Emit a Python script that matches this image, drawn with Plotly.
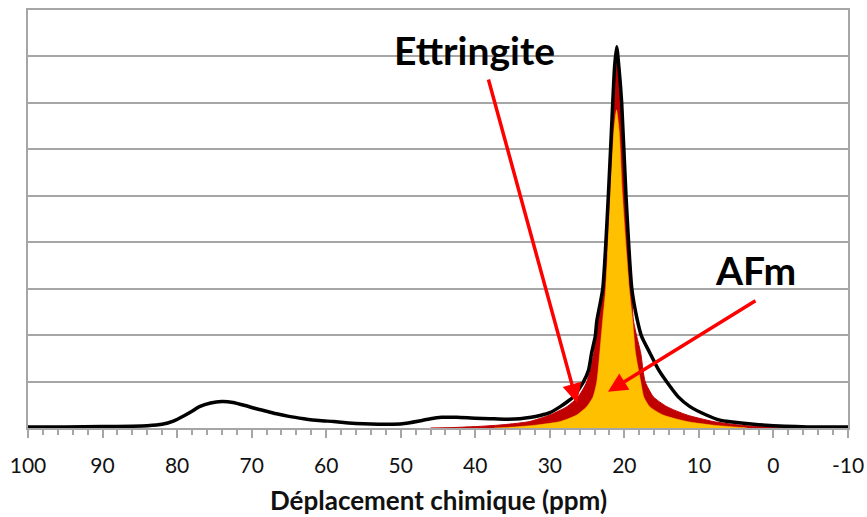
import plotly.graph_objects as go

# Total spectrum (black line)
total_ppm = [100, 95, 90, 86, 84, 82, 80.5, 79, 78, 77, 75.5, 74, 72.5, 71, 69.5, 68, 66.5, 65,
             63, 61, 59, 57, 55, 53, 51, 49, 47.5, 46, 44.5, 42.5, 40, 38, 36, 34, 32.5, 31.3,
             30, 28.6, 27.7, 26.85, 25.5, 24.8, 24.4, 23.9, 23.7, 22.9, 22.15, 21.56, 21.3,
             21.03, 20.75, 20.36, 19.78, 19.0, 18.27, 17.7, 16.56, 15.4, 14.3, 12.77, 11.2,
             9.0, 7.2, 5.5, 4, 2, 0, -3, -6, -10]
total_int = [0.02, 0.02, 0.03, 0.04, 0.05, 0.08, 0.15, 0.27, 0.36, 0.46, 0.54, 0.57, 0.55, 0.49,
             0.42, 0.36, 0.30, 0.25, 0.20, 0.16, 0.14, 0.11, 0.09, 0.08, 0.08, 0.11, 0.15, 0.20,
             0.23, 0.23, 0.21, 0.20, 0.19, 0.20, 0.23, 0.27, 0.33, 0.46, 0.56, 0.67, 0.99, 1.25,
             1.61, 1.98, 2.3, 3.0, 5.0, 7.0, 7.8, 8.21, 7.8, 7.0, 5.0, 3.0, 2.33, 1.98, 1.61,
             1.25, 0.99, 0.67, 0.46, 0.28, 0.17, 0.13, 0.10, 0.07, 0.05, 0.03, 0.02, 0.02]

# Sum of fitted components (dark red fill)
red_ppm = [46, 43, 40, 37, 35, 32.7, 30, 27.7, 26.2, 25.05, 24.1, 23.6, 22.85, 22.1, 21.5, 21.25,
           21.0, 20.75, 20.4, 19.85, 19.05, 18.8, 18.35, 17.8, 17.5, 17.2, 16.1, 14.3, 11.6, 8.1,
           5, 2, -2, -5.4]
red_int = [0.0, 0.01, 0.03, 0.06, 0.09, 0.14, 0.28, 0.46, 0.67, 0.99, 1.61, 2.33, 3.0, 5.0, 7.0,
           7.65, 7.98, 7.65, 7.0, 5.0, 3.0, 2.33, 1.98, 1.61, 1.25, 0.99, 0.67, 0.46, 0.28, 0.14,
           0.07, 0.03, 0.01, 0.0]

# Single component (yellow fill)
yel_ppm = [37.5, 35, 32, 28.6, 26.4, 25.05, 24.2, 23.7, 23.3, 22.9, 22.5, 21.9, 21.4, 21.05, 20.7,
           20.25, 19.35, 18.9, 18.5, 17.8, 17.4, 16.6, 14.8, 11.6, 8, 5, 3.5]
yel_int = [0.0, 0.02, 0.06, 0.14, 0.28, 0.46, 0.67, 0.99, 1.61, 2.33, 3.0, 5.0, 6.4, 6.85, 6.4,
           5.0, 3.0, 2.33, 1.61, 0.99, 0.67, 0.46, 0.28, 0.14, 0.06, 0.02, 0.0]

x_ticks = [100, 90, 80, 70, 60, 50, 40, 30, 20, 10, 0, -10]
x_tick_text = ["100", "90", "80", "70", "60", "50", "40", "30", "20", "10", "0", "-10"]

GRID = "#a6a6a6"

fig = go.Figure()
fig.add_trace(go.Scatter(x=red_ppm, y=red_int, mode="lines", fill="tozeroy",
                         line=dict(color="#C00000", width=1, shape="spline", smoothing=0.6),
                         fillcolor="#C00000", hoverinfo="skip", showlegend=False))
fig.add_trace(go.Scatter(x=yel_ppm, y=yel_int, mode="lines", fill="tozeroy",
                         line=dict(color="#FFC000", width=0.5, shape="spline", smoothing=0.6),
                         fillcolor="#FFC000", hoverinfo="skip", showlegend=False))
fig.add_trace(go.Scatter(x=total_ppm, y=total_int, mode="lines",
                         line=dict(color="#000000", width=3.5, shape="spline", smoothing=0.6),
                         hoverinfo="skip", showlegend=False))

fig.update_layout(
    width=867, height=517,
    margin=dict(l=28, r=19, t=10, b=89, autoexpand=False),
    paper_bgcolor="white", plot_bgcolor="white",
    font=dict(family="Lato, Open Sans, sans-serif", color="#000000"),
    xaxis=dict(range=[100, -10], tickvals=x_ticks, ticktext=x_tick_text, automargin=False,
               ticks="outside", ticklen=8, tickwidth=1.5, tickcolor=GRID,
               tickfont=dict(size=21, color="#111111"), ticklabelstandoff=10,
               showgrid=False, zeroline=False,
               showline=True, linecolor=GRID, linewidth=2, mirror=True,
               minor=dict(dtick=2, tick0=0, ticks="outside", ticklen=5,
                          tickwidth=1.5, tickcolor=GRID, showgrid=False)),
    yaxis=dict(range=[0, 9], dtick=1, tick0=0, showticklabels=False, ticks="", automargin=False,
               showgrid=True, gridcolor=GRID, gridwidth=1.6, zeroline=False,
               showline=True, linecolor=GRID, linewidth=2, mirror=True),
    annotations=[
        dict(text="<b>Déplacement chimique (ppm)</b>", xref="paper", yref="paper",
             x=0.5, y=-0.172, xanchor="center", yanchor="middle", showarrow=False,
             font=dict(size=26, color="#111111")),
        dict(text="<b>Ettringite</b>", xref="paper", yref="paper", x=0.544, y=0.904,
             xanchor="center", yanchor="middle", showarrow=False,
             font=dict(size=39, color="#000000")),
        dict(text="<b>AFm</b>", xref="paper", yref="paper", x=0.8866, y=0.378,
             xanchor="center", yanchor="middle", showarrow=False,
             font=dict(size=39, color="#000000")),
        dict(text="", x=26.35, y=0.54, xref="x", yref="y", ax=-89, ay=-325,
             showarrow=True, arrowhead=2, arrowsize=1.1, arrowwidth=3.5, arrowcolor="#FF0000"),
        dict(text="", x=22.2, y=0.78, xref="x", yref="y", ax=149, ay=-92,
             showarrow=True, arrowhead=2, arrowsize=1.1, arrowwidth=3.5, arrowcolor="#FF0000"),
    ],
)

fig.write_html("out.html", config={"displayModeBar": False},
               post_script="document.body.style.margin='0px';")
